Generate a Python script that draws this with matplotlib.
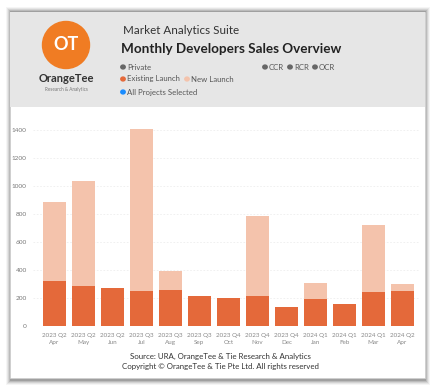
import matplotlib.pyplot as plt
from matplotlib.patches import Rectangle, Circle

plt.rcParams['font.family'] = ['Lato', 'DejaVu Sans']

W, H = 440, 387

months = ['Apr', 'May', 'Jun', 'Jul', 'Aug', 'Sep', 'Oct', 'Nov', 'Dec',
          'Jan', 'Feb', 'Mar', 'Apr']
quarters = ['2023 Q2', '2023 Q2', '2023 Q2', '2023 Q3', '2023 Q3', '2023 Q3',
            '2023 Q4', '2023 Q4', '2023 Q4', '2024 Q1', '2024 Q1', '2024 Q1',
            '2024 Q2']
existing = [325, 289, 270, 251, 260, 213, 203, 215, 134, 194, 155, 246, 251]
new_launch = [561, 751, 0, 1161, 132, 0, 0, 569, 0, 112, 0, 473, 52]
yticks = [0, 200, 400, 600, 800, 1000, 1200, 1400]

c_exist = '#E4693A'
c_new = '#F4C3AC'


def fx(px):
    return px / W


def fy(py):
    return 1 - py / H


fig = plt.figure(figsize=(W / 100, H / 100), dpi=100)
fig.patch.set_facecolor('white')

# card shadow
for i, a in enumerate([0.04, 0.06, 0.08, 0.11, 0.14]):
    d = 5 - i
    fig.add_artist(Rectangle((fx(10 - d + 1), fy(380 + d)), fx(416 + 2 * d - 2), (368 + 2 * d) / H,
                             transform=fig.transFigure, facecolor='black', alpha=a,
                             edgecolor='none', zorder=0))
fig.add_artist(Rectangle((fx(10), fy(378)), fx(415), 366 / H, transform=fig.transFigure,
                         facecolor='white', edgecolor='#d0d0d0', lw=0.5, zorder=1))
fig.add_artist(Rectangle((fx(10), fy(107)), fx(415), 95 / H, transform=fig.transFigure,
                         facecolor='#E6E6E6', edgecolor='none', zorder=2))

# logo
ax_logo = fig.add_axes([fx(41), fy(70), fx(50), 50 / H], zorder=4)
ax_logo.set_xlim(0, 1)
ax_logo.set_ylim(0, 1)
ax_logo.set_aspect('equal')
ax_logo.axis('off')
ax_logo.patch.set_visible(False)
ax_logo.add_patch(Circle((0.5, 0.5), 0.47, color='#F07C23'))
ax_logo.text(0.5, 0.5, 'OT', color='white', fontsize=13, ha='center', va='center',
             fontweight='bold')
fig.text(fx(66), fy(79), 'OrangeTee', fontsize=8, fontweight='bold', color='#333333',
         ha='center', va='center', zorder=5)
fig.text(fx(66), fy(89), 'Research & Analytics', fontsize=3.3, color='#777777',
         ha='center', va='center', zorder=5)

# header text
fig.text(fx(123), fy(31), 'Market Analytics Suite', fontsize=8.4, color='#333333',
         va='center', zorder=5)
fig.text(fx(121), fy(49), 'Monthly Developers Sales Overview', fontsize=9.7,
         fontweight='bold', color='#222222', va='center', zorder=5)


def legend_item(x, y, color, label):
    fig.add_artist(Circle((fx(x), fy(y)), 2.2 / W, transform=fig.transFigure, color=color,
                          zorder=5))
    fig.text(fx(x + 4), fy(y), label, fontsize=5.6, color='#555555', va='center', zorder=5)


legend_item(123, 67, '#666666', 'Private')
legend_item(123, 79, c_exist, 'Existing Launch')
legend_item(187, 79, c_new, 'New Launch')
legend_item(123, 92, '#1A8CFF', 'All Projects Selected')
legend_item(265, 67, '#666666', 'CCR')
legend_item(290, 67, '#666666', 'RCR')
legend_item(315, 67, '#666666', 'OCR')

# chart
ax = fig.add_axes([fx(33), fy(326), fx(387), (326 - 119) / H], zorder=4)
ax.set_facecolor('none')
x = list(range(len(months)))
ax.bar(x, existing, width=0.78, color=c_exist, zorder=3)
ax.bar(x, new_launch, width=0.78, bottom=existing, color=c_new, zorder=3)
ax.set_xlim(-0.73, 12.6)
ax.set_ylim(0, 1480)
ax.set_yticks(yticks)
ax.set_yticklabels([str(v) for v in yticks], fontsize=4.6, color='#777777')
ax.set_xticks(x)
ax.set_xticklabels([f'{q}\n{m}' for q, m in zip(quarters, months)], fontsize=4.5,
                   color='#888888', linespacing=1.4)
ax.tick_params(length=0, pad=5)
ax.tick_params(axis='y', pad=4.5)
ax.grid(axis='y', color='#eeeeee', lw=0.6, ls=(0, (2, 2)), zorder=0)
for s in ax.spines.values():
    s.set_visible(False)

fig.text(fx(220), fy(356), 'Source: URA, OrangeTee & Tie Research & Analytics',
         fontsize=5.7, color='#333333', ha='center', va='center', zorder=5)
fig.text(fx(220), fy(366), 'Copyright \u00a9 OrangeTee & Tie Pte Ltd. All rights reserved',
         fontsize=5.7, color='#333333', ha='center', va='center', zorder=5)

fig.savefig('out.png', dpi=100)
